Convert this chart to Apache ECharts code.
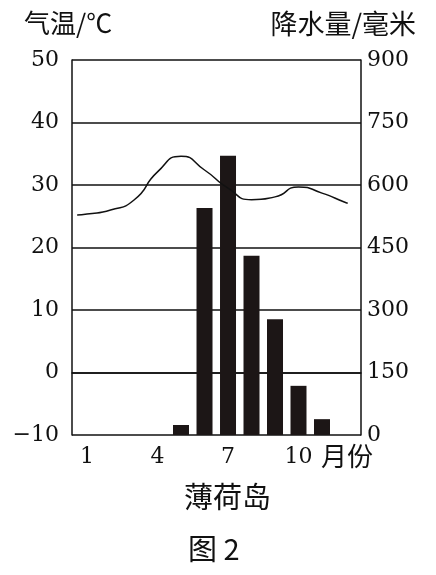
<!DOCTYPE html>
<html><head><meta charset="utf-8">
<script src="https://cdn.jsdelivr.net/npm/echarts@6/dist/echarts.min.js"></script>
<style>html,body{margin:0;padding:0;background:#fff}#c{width:436px;height:575px}</style>
</head><body><div id="c"></div>
<script>
var months = [1,2,3,4,5,6,7,8,9,10,11,12];
var precip = [0,0,0,0,24,545,670,430,278,118,38,0];
var tempX = [0.58,1,2,3,4,5,6,7,8,9,10,11,12,12.1];
var temp = [25.2,25.35,26.0,27.6,32.1,34.6,32.4,29.5,27.65,28.1,29.7,28.7,27.2,27.1];
var monthTicks = [1,4,7,10];
var cjk = '"Noto Sans CJK SC", sans-serif';
var num = '"DejaVu Serif", serif';

var chart = echarts.init(document.getElementById('c'), null, {renderer:'canvas'});
chart.setOption({
  animation:false,
  backgroundColor:'#fff',
  grid:{left:72,right:75,top:60,bottom:140},
  xAxis:{type:'value',min:0.36,max:12.66,
    axisLine:{lineStyle:{color:'#111',width:1.5}},
    axisTick:{show:false},splitLine:{show:false},
    axisLabel:{customValues:monthTicks,color:'#111',fontFamily:num,fontSize:22,margin:11}},
  yAxis:[
    {type:'value',min:-10,max:50,interval:10,
     axisLine:{show:true,lineStyle:{color:'#111',width:1.5}},axisTick:{show:false},
     splitLine:{show:true,lineStyle:{color:'#111',width:1.5}},
     axisLabel:{color:'#111',fontFamily:num,fontSize:22,margin:13,
       formatter:function(v){return v<0?'\u2212'+Math.abs(v):String(v);}}},
    {type:'value',min:0,max:900,interval:150,position:'right',
     axisLine:{show:true,lineStyle:{color:'#111',width:1.5}},axisTick:{show:false},
     splitLine:{show:false},
     axisLabel:{color:'#111',fontFamily:num,fontSize:22,margin:6}}
  ],
  series:[
    {type:'bar',yAxisIndex:1,barWidth:16,
     data:months.map(function(m,i){return [m,precip[i]];}),
     itemStyle:{color:'#1c1616'}},
    {type:'line',yAxisIndex:0,smooth:0.6,symbol:'none',
     data:tempX.map(function(x,i){return [x,temp[i]];}),
     lineStyle:{color:'#111',width:1.5}}
  ],
  graphic:[
    {type:'text',left:24,top:10,style:{text:'气温/℃',font:'26px '+cjk,fill:'#111'}},
    {type:'text',right:20,top:10,style:{text:'降水量/毫米',font:'27px '+cjk,fill:'#111'}},
    {type:'text',left:321,top:443,style:{text:'月份',font:'26px '+cjk,fill:'#111'}},
    {type:'text',left:184,top:482,style:{text:'薄荷岛',font:'29px '+cjk,fill:'#111'}},
    {type:'text',left:188,top:534,style:{text:'图 2',font:'29px '+cjk,fill:'#111'}}
  ]
});
</script></body></html>
